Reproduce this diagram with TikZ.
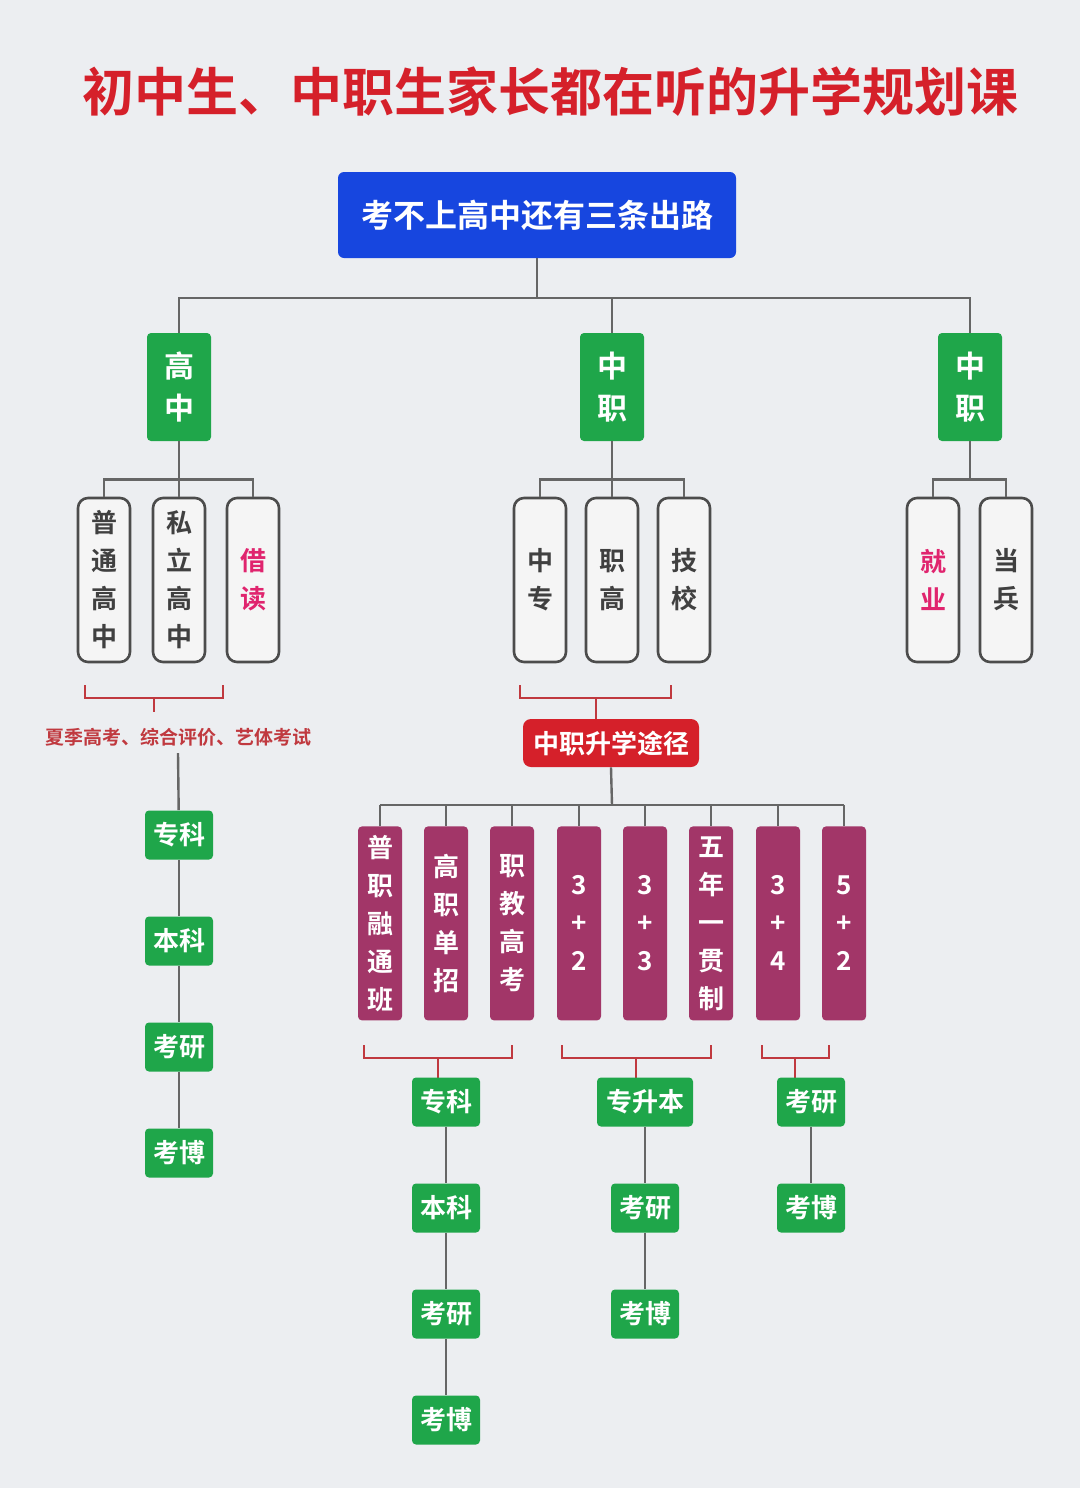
\documentclass[tikz,border=0pt]{standalone}
\usepackage{fontspec}
\setmainfont{Noto Sans CJK SC}[BoldFont={* Bold}]
\usetikzlibrary{positioning}
\definecolor{bgc}{HTML}{ECEEF1}
\definecolor{titlered}{HTML}{D5202A}
\definecolor{topblue}{HTML}{1746DF}
\definecolor{grn}{HTML}{1FA64A}
\definecolor{plum}{HTML}{A23668}
\definecolor{brk}{HTML}{C0393F}
\definecolor{pinkt}{HTML}{E0246E}
\tikzset{
  link/.style={draw=gray!80!black, line width=1.2pt},
  brace/.style={draw=brk, line width=1.2pt},
  greenbox/.style={fill=grn, text=white, rounded corners=2pt, font=\bfseries\fontsize{13}{15}\selectfont, minimum width=34pt, minimum height=24.5pt, inner sep=0pt},
  tallgreen/.style={fill=grn, text=white, rounded corners=2pt, font=\bfseries\fontsize{15}{21}\selectfont, minimum width=32pt, minimum height=54pt, align=center, inner sep=0pt},
  optbox/.style={draw=black!70, line width=1.3pt, fill=gray!8, rounded corners=5pt, font=\bfseries\fontsize{13}{19}\selectfont, text=black!75, minimum width=26pt, minimum height=82pt, align=center, inner sep=0pt},
  pathbox/.style={fill=plum, text=white, rounded corners=2pt, font=\bfseries\fontsize{13}{19}\selectfont, minimum width=22pt, minimum height=97pt, align=center, inner sep=0pt, anchor=north},
}
\begin{document}
\begin{tikzpicture}[x=0.5pt,y=-0.5pt]
  \fill[bgc] (0,0) rectangle (1080,1488);
  \useasboundingbox (0,0) rectangle (1080,1488);

  % title
  \node[text=titlered, font=\bfseries\fontsize{26}{30}\selectfont] (title) at (550,92) {初中生、中职生家长都在听的升学规划课};

  % root
  \node[fill=topblue, text=white, rounded corners=3pt, font=\bfseries\fontsize{16}{18}\selectfont, minimum width=199pt, minimum height=43pt] (root) at (537,215) {考不上高中还有三条出路};

  % three ways
  \node[tallgreen] (gz) at (179,387) {高\\中};
  \node[tallgreen] (zz) at (612,387) {中\\职};
  \node[tallgreen] (zy) at (970,387) {中\\职};
  \coordinate (r1) at (537,298);
  \draw[link] (root.south) -- (r1);
  \draw[link] (gz.north) |- (r1) -| (zy.north);
  \draw[link] (zz.north) -- (zz.north |- r1);

  % options
  \node[optbox] (pt) at (104,580) {普\\通\\高\\中};
  \node[optbox] (sl) at (179,580) {私\\立\\高\\中};
  \node[optbox, text=pinkt] (jd) at (253,580) {借\\读};
  \node[optbox] (zs) at (540,580) {中\\专};
  \node[optbox] (zg) at (612,580) {职\\高};
  \node[optbox] (jx) at (684,580) {技\\校};
  \node[optbox, text=pinkt] (jy) at (933,580) {就\\业};
  \node[optbox] (db) at (1006,580) {当\\兵};
  \foreach \p/\a/\b in {gz/pt/jd, zz/zs/jx, zy/jy/db} {
    \draw[link] (\p.south) -- ++(0,38) coordinate (\p-j);
    \draw[link] (\a.north) |- (\p-j) -| (\b.north);
  }
  \draw[link] (sl.north) -- (sl.north |- gz-j);
  \draw[link] (zg.north) -- (zg.north |- zz-j);

  % left column
  \draw[brace] (85,685) -- (85,698) -- (223,698) -- (223,685);
  \draw[brace] (154,698) -- (154,712);
  \node[text=brk, font=\bfseries\fontsize{9.5}{11}\selectfont] (gk) at (178,737) {夏季高考、综合评价、艺体考试};
  \node[greenbox] (lzk) at (179,835) {专科};
  \node[greenbox] (lbk) at (179,941) {本科};
  \node[greenbox] (lky) at (179,1047) {考研};
  \node[greenbox] (lkb) at (179,1153) {考博};
  \draw[link] (gk.south) -- (lzk);
  \draw[link] (lzk) -- (lbk) -- (lky) -- (lkb);

  % middle
  \draw[brace] (520,685) -- (520,698) -- (671,698) -- (671,685);
  \draw[brace] (596,698) -- (596,720);
  \node[fill=titlered, text=white, rounded corners=4pt, font=\bfseries\fontsize{13}{15}\selectfont, minimum width=88pt, minimum height=24pt] (sx) at (611,743) {中职升学途径};
  \coordinate (sxj) at (612,805);
  \draw[link] (sx.south) -- (sxj);
  \foreach \n/\x/\t in {p1/380/普\\职\\融\\通\\班, p2/446/高\\职\\单\\招, p3/512/职\\教\\高\\考,
      p4/579/3\\+\\2, p5/645/3\\+\\3, p6/711/五\\年\\一\\贯\\制, p7/778/3\\+\\4, p8/844/5\\+\\2} {
    \node[pathbox] (\n) at (\x,826) {\t};
    \draw[link] (\n.north) -- (\n.north |- sxj);
  }
  \draw[link] (p1.north |- sxj) -- (p8.north |- sxj);

  \draw[brace] (364,1045) -- (364,1058) -- (512,1058) -- (512,1045);
  \draw[brace] (438,1058) -- (438,1078);
  \draw[brace] (562,1045) -- (562,1058) -- (711,1058) -- (711,1045);
  \draw[brace] (636,1058) -- (636,1078);
  \draw[brace] (762,1045) -- (762,1058) -- (829,1058) -- (829,1045);
  \draw[brace] (795,1058) -- (795,1078);

  \node[greenbox] (azk) at (446,1102) {专科};
  \node[greenbox] (abk) at (446,1208) {本科};
  \node[greenbox] (aky) at (446,1314) {考研};
  \node[greenbox] (akb) at (446,1420) {考博};
  \draw[link] (azk) -- (abk) -- (aky) -- (akb);

  \node[greenbox, minimum width=48pt] (bzs) at (645,1102) {专升本};
  \node[greenbox] (bky) at (645,1208) {考研};
  \node[greenbox] (bkb) at (645,1314) {考博};
  \draw[link] (bzs) -- (bky) -- (bkb);

  \node[greenbox] (cky) at (811,1102) {考研};
  \node[greenbox] (ckb) at (811,1208) {考博};
  \draw[link] (cky) -- (ckb);
\end{tikzpicture}
\end{document}
